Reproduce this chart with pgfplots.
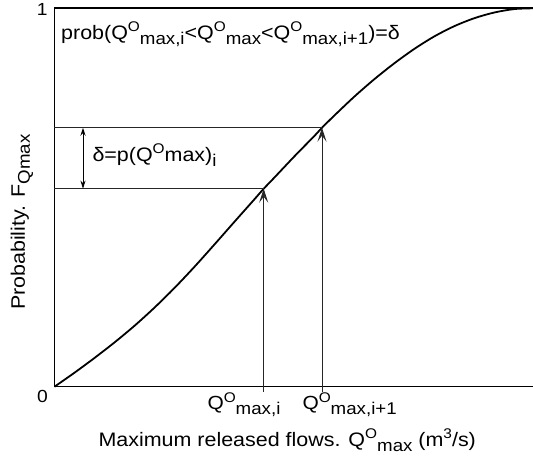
\documentclass[border=0pt]{standalone}
\usepackage{pgfplots}
\pgfplotsset{compat=1.18}
\usetikzlibrary{arrows.meta}
\usepackage{fontspec}
\setmainfont{Liberation Sans}[FakeStretch=1.1]
\newcommand{\SUP}[1]{\raisebox{0.42em}{\fontsize{14}{14}\selectfont #1}}
\newcommand{\SUB}[1]{\raisebox{-0.25em}{\fontsize{17}{17}\selectfont #1}}
\begin{document}
\begin{tikzpicture}
\begin{axis}[
  anchor=origin, at={(0,0)},
  scale only axis,
  width=478.5pt, height=378.4pt,
  xmin=0, xmax=478.5, ymin=0, ymax=1,
  axis lines=left,
  axis line style={-, line width=1.6pt},
  xtick=\empty, ytick=\empty,
  clip=false,
]
% top border
\addplot[black, line width=1.6pt] coordinates {(0,1) (478.5,1)};
% CDF curve
\addplot[black, line width=1.8pt, smooth, tension=0.5] coordinates {
(0,0) (20,0.037) (40,0.076) (60,0.117) (80,0.161) (100,0.209) (120,0.261)
(140,0.317) (160,0.376) (180,0.436) (200,0.4955) (209.2,0.5232) (220,0.553)
(240,0.609) (260,0.663) (267.5,0.6844) (280,0.717) (300,0.767) (320,0.813)
(340,0.855) (360,0.893) (380,0.926) (400,0.953) (420,0.974) (440,0.989)
(460,0.998) (478.5,1.0)};
% horizontal guide lines
\addplot[black!85, line width=0.9pt] coordinates {(0,0.5232) (209.2,0.5232)};
\addplot[black!85, line width=0.9pt] coordinates {(0,0.6844) (267.5,0.6844)};
% vertical arrows
\addplot[black!85, line width=0.9pt, -{Stealth[length=14pt,width=9pt,inset=6pt]}] coordinates {(209.2,-0.014) (209.2,0.5232)};
\addplot[black!85, line width=0.9pt, -{Stealth[length=14pt,width=9pt,inset=6pt]}] coordinates {(267.5,-0.014) (267.5,0.6844)};
% double arrow
\addplot[black, line width=0.9pt, {Stealth[length=8pt,width=5pt,inset=2.5pt]}-{Stealth[length=8pt,width=5pt,inset=2.5pt]}] coordinates {(28.5,0.5232) (28.5,0.6844)};
\end{axis}
\begin{scope}[every node/.style={inner sep=0pt, outer sep=0pt}]
\node[anchor=base west, font=\fontsize{19.5}{20}\selectfont] at (6.7pt,346.7pt)
  {prob(Q\SUP{O}\SUB{max,i}<Q\SUP{O}\SUB{max}<Q\SUP{O}\SUB{max,i+1})=δ};
\node[anchor=base west, font=\fontsize{19.5}{20}\selectfont] at (38pt,224.7pt)
  {δ=p(Q\SUP{O}max)\SUB{i}};
\node[anchor=east, font=\fontsize{17.5}{18}\selectfont] at (-7pt,377.7pt) {1};
\node[anchor=center, font=\fontsize{17.5}{18}\selectfont] at (-12pt,-9.8pt) {0};
\node[anchor=base west, font=\fontsize{19}{20}\selectfont] at (153pt,-23.3pt) {Q\SUP{O}\SUB{max,i}};
\node[anchor=base west, font=\fontsize{19}{20}\selectfont] at (248pt,-23.3pt) {Q\SUP{O}\SUB{max,i+1}};
\node[anchor=base west, font=\fontsize{19.5}{20}\selectfont] at (44.1pt,-60pt)
  {Maximum released flows. Q\SUP{O}\SUB{max} (m\SUP{3}/s)};
\node[anchor=base west, rotate=90, font=\fontsize{19.5}{20}\selectfont] at (-29.5pt,76.7pt)
  {Probability. F\SUB{Qmax}};
\end{scope}
\pgfresetboundingbox
\path (-54.5pt,-87.3pt) rectangle (478.5pt,386.7pt);
\end{tikzpicture}
\end{document}
